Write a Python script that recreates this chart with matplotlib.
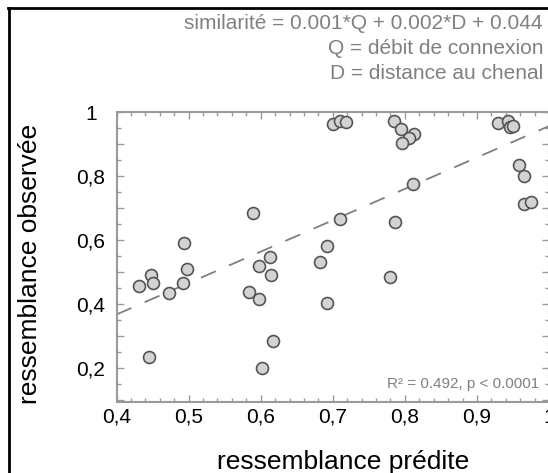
import numpy as np
import matplotlib
matplotlib.use("Agg")
import matplotlib.pyplot as plt
from matplotlib.ticker import MultipleLocator, FuncFormatter
from matplotlib.lines import Line2D

plt.rcParams["font.family"] = ["Liberation Sans", "DejaVu Sans"]

# predicted vs observed similarity
predite = [0.431, 0.448, 0.450, 0.473, 0.493, 0.492, 0.498, 0.445,
           0.589, 0.598, 0.613, 0.614, 0.584, 0.597, 0.602, 0.617,
           0.683, 0.692, 0.692, 0.710, 0.700, 0.710, 0.719,
           0.785, 0.794, 0.813, 0.806, 0.796, 0.811, 0.787, 0.779,
           0.929, 0.943, 0.946, 0.950, 0.958, 0.965, 0.966, 0.975]
observee = [0.457, 0.491, 0.467, 0.433, 0.590, 0.467, 0.508, 0.235,
            0.683, 0.519, 0.546, 0.491, 0.438, 0.416, 0.199, 0.284,
            0.532, 0.581, 0.402, 0.666, 0.962, 0.973, 0.970,
            0.972, 0.946, 0.930, 0.920, 0.904, 0.774, 0.655, 0.485,
            0.967, 0.973, 0.952, 0.957, 0.834, 0.801, 0.712, 0.718]

pente = 0.981
ordonnee = -0.025

equation = ["similarité = 0.001*Q + 0.002*D + 0.044",
            "Q = débit de connexion",
            "D = distance au chenal"]
stats_txt = "R² = 0.492, p < 0.0001"

W, H = 548, 473
fig = plt.figure(figsize=(W / 100, H / 100), dpi=100)
ax = fig.add_axes([116.5 / W, 1 - 402 / H, (549 - 116.5) / W, (402 - 112) / H])

xlim = (0.4, 1.0)
ylim = (0.094, 1.0)
ax.set_xlim(*xlim)
ax.set_ylim(*ylim)

xs = np.array(xlim)
ax.plot(xs, pente * xs + ordonnee, color="#7f7f7f", lw=1.3,
        linestyle=(0, (9, 8)), zorder=2)
ax.plot(predite, observee, "o", ms=8.6, mfc="#d3d3d3", mec="#555555",
        mew=1.2, zorder=3, clip_on=False)

grey = "#9a9a9a"
for s in ax.spines.values():
    s.set_color(grey)
    s.set_linewidth(1.5)

ax.xaxis.set_major_locator(MultipleLocator(0.1))
ax.xaxis.set_minor_locator(MultipleLocator(0.02))
ax.yaxis.set_major_locator(MultipleLocator(0.1))
ax.yaxis.set_minor_locator(MultipleLocator(0.05))


def fmt_x(v, pos):
    return ("%g" % round(v, 2)).replace(".", ",")


def fmt_y(v, pos):
    k = int(round(v * 10))
    if k % 2:
        return ""
    return ("%g" % round(v, 2)).replace(".", ",")


ax.xaxis.set_major_formatter(FuncFormatter(fmt_x))
ax.yaxis.set_major_formatter(FuncFormatter(fmt_y))

ax.tick_params(which="both", direction="in", top=True, right=True,
               color=grey, width=1.0)
ax.tick_params(which="major", length=5)
ax.tick_params(which="minor", length=3)
ax.tick_params(axis="x", which="major", labelsize=15, pad=4.0)
ax.tick_params(axis="y", which="major", labelsize=15, pad=18.4)
for lab in ax.get_yticklabels():
    lab.set_horizontalalignment("center")

ax.text(0.987, 0.1375, stats_txt, color="#808080", fontsize=11,
        ha="right", va="baseline")

for i, line in enumerate(equation):
    fig.text(543 / W, 1 - (29 + 25 * i) / H, line, color="#808080",
             fontsize=15, ha="right", va="baseline")

fig.text(343 / W, 1 - 469 / H, "ressemblance prédite", fontsize=19,
         ha="center", va="baseline")
fig.text(30 / W, 1 - 263.5 / H, "ressemblance observée", fontsize=19,
         rotation=90, ha="center", va="center")

# black frame on left and top
fig.add_artist(Line2D([8.5 / W, 8.5 / W], [0, 1 - 8.5 / H], color="black",
                      lw=2.0, transform=fig.transFigure))
fig.add_artist(Line2D([7.5 / W, 1], [1 - 8.5 / H, 1 - 8.5 / H], color="black",
                      lw=2.0, transform=fig.transFigure))

fig.savefig("out.png", dpi=100)
